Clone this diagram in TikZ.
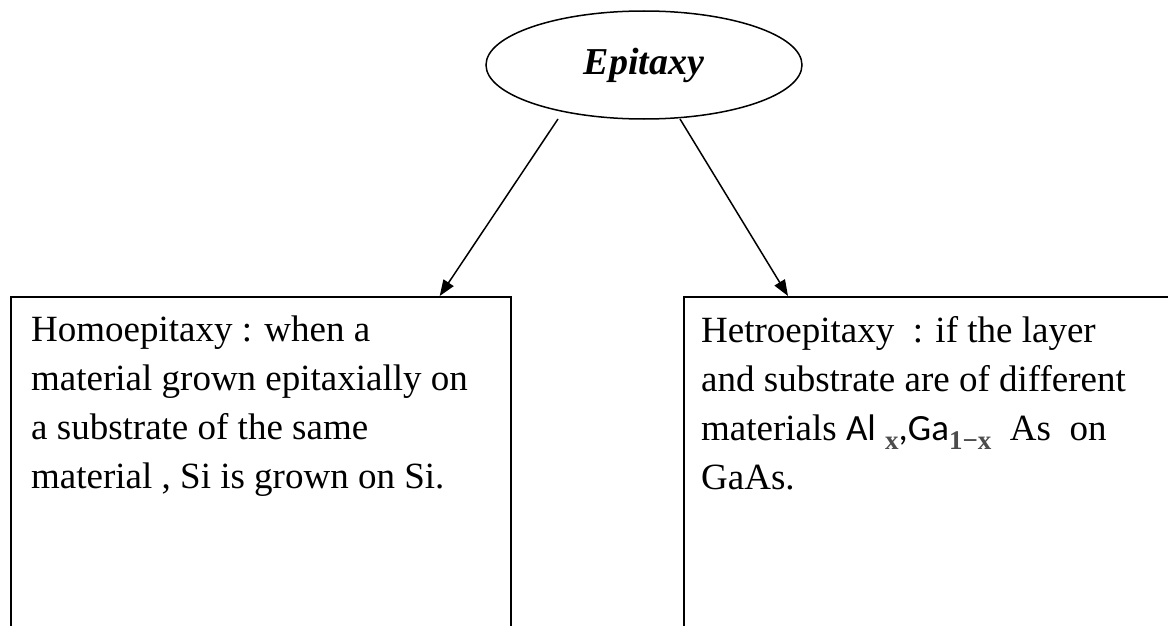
\documentclass[tikz,border=0pt]{standalone}
\usepackage{fontspec}
\setmainfont{Liberation Serif}
\newfontfamily\calfont{Carlito}
\usetikzlibrary{shapes.geometric,arrows.meta}
\definecolor{subgray}{gray}{0.3}
\newcommand{\subtxt}[1]{\raisebox{-9pt}{\fontsize{27}{27}\selectfont\color{subgray}\bfseries #1}}
\begin{document}
\begin{tikzpicture}[x=1pt,y=-1pt,
  conn/.style={line width=1.5pt,-{Triangle[length=16pt,width=12pt]}},
  boxframe/.style={draw,line width=1.7pt,rectangle,inner sep=0pt},
  bodytext/.style={anchor=north west,inner sep=0pt,align=left,font=\fontsize{37}{49}\selectfont}]
\useasboundingbox (0,0) rectangle (1168,626);
\node[ellipse,draw,line width=1.5pt,minimum width=316pt,minimum height=108pt,inner sep=0pt,
      font=\fontsize{38}{38}\selectfont\bfseries\itshape] (ell) at (644,65) {Epitaxy};
\node[boxframe,anchor=north west,minimum width=500pt,minimum height=420pt] (lbox) at (10,296) {};
\node[boxframe,anchor=north west,minimum width=620pt,minimum height=420pt] (rbox) at (683,296) {};
\node[bodytext] (ltext) at (31,316) {Homoepitaxy : when a\\material grown epitaxially on\\a substrate of the same\\material , Si is grown on Si.};
\node[bodytext] (rtext) at (701,316) {Hetroepitaxy\ \ : if the layer\\and substrate are of different\\materials {\calfont Al}\ \subtxt{x}{\calfont,Ga}\subtxt{1−x}\ \ As\ \ on\\GaAs.};
\draw[conn] ([xshift=-86pt,yshift=-54pt]ell.center) -- ([xshift=-72pt]lbox.north east);
\draw[conn] ([xshift=36pt,yshift=-54pt]ell.center) -- ([xshift=105pt]rbox.north west);
\end{tikzpicture}
\end{document}
